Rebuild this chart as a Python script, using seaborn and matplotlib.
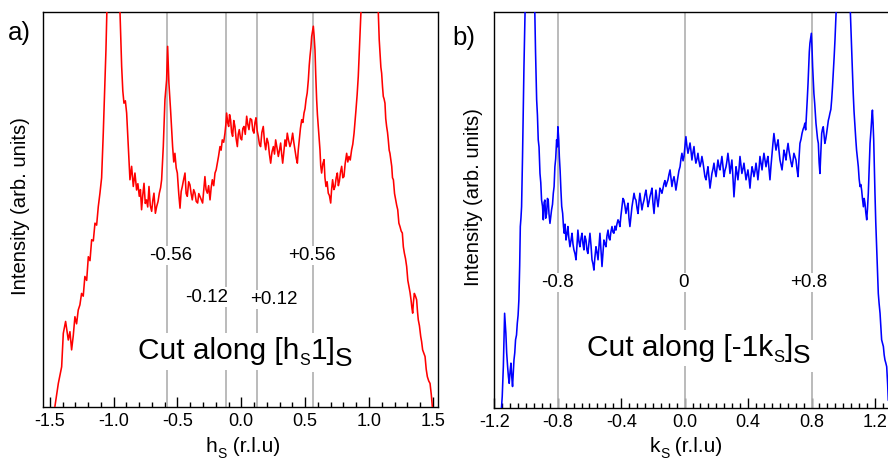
import matplotlib
matplotlib.use("Agg")
import matplotlib.pyplot as plt
import matplotlib.transforms as mtransforms
from matplotlib.ticker import FixedLocator, MultipleLocator
import seaborn as sns
import pandas as pd

# ---------------- data ----------------
h_s = [-1.460, -1.433, -1.407, -1.394, -1.376, -1.355, -1.342, -1.329, -1.316, -1.303, -1.290, -1.277,
       -1.264, -1.251, -1.238, -1.225, -1.211, -1.198, -1.185, -1.172, -1.159, -1.146, -1.133, -1.120,
       -1.107, -1.094, -1.081, -1.070, -1.060, -1.050, -1.000, -0.952, -0.937, -0.928, -0.919, -0.908,
       -0.898, -0.885, -0.872, -0.859, -0.846, -0.833, -0.820, -0.810, -0.799, -0.790, -0.781, -0.772,
       -0.762, -0.752, -0.742, -0.733, -0.723, -0.713, -0.702, -0.693, -0.684, -0.673, -0.663, -0.652,
       -0.642, -0.632, -0.624, -0.611, -0.598, -0.585, -0.577, -0.567, -0.554, -0.546, -0.538, -0.529,
       -0.520, -0.510, -0.501, -0.490, -0.480, -0.471, -0.462, -0.452, -0.441, -0.432, -0.423, -0.412,
       -0.402, -0.393, -0.384, -0.373, -0.363, -0.353, -0.342, -0.333, -0.324, -0.313, -0.303, -0.294,
       -0.285, -0.276, -0.266, -0.256, -0.245, -0.236, -0.227, -0.216, -0.206, -0.197, -0.188, -0.178,
       -0.167, -0.158, -0.149, -0.138, -0.128, -0.121, -0.115, -0.107, -0.099, -0.092, -0.084, -0.076,
       -0.068, -0.059, -0.050, -0.041, -0.031, -0.024, -0.016, -0.006, 0.003, 0.012, 0.021, 0.031,
       0.042, 0.051, 0.060, 0.070, 0.081, 0.090, 0.099, 0.107, 0.115, 0.124, 0.133, 0.142,
       0.151, 0.161, 0.172, 0.182, 0.191, 0.201, 0.211, 0.220, 0.230, 0.240, 0.251, 0.260,
       0.269, 0.280, 0.290, 0.299, 0.308, 0.316, 0.324, 0.333, 0.342, 0.351, 0.360, 0.370,
       0.381, 0.391, 0.402, 0.411, 0.420, 0.430, 0.439, 0.446, 0.454, 0.463, 0.473, 0.482,
       0.491, 0.499, 0.507, 0.516, 0.525, 0.532, 0.538, 0.545, 0.551, 0.557, 0.564, 0.570,
       0.577, 0.583, 0.590, 0.596, 0.603, 0.610, 0.616, 0.622, 0.629, 0.638, 0.648, 0.655,
       0.663, 0.672, 0.681, 0.690, 0.700, 0.707, 0.715, 0.725, 0.734, 0.743, 0.752, 0.760,
       0.768, 0.777, 0.786, 0.795, 0.804, 0.813, 0.825, 0.834, 0.843, 0.853, 0.864, 0.873,
       0.883, 0.890, 0.898, 0.907, 0.916, 0.923, 0.930, 0.940, 1.005, 1.070, 1.073, 1.080,
       1.086, 1.093, 1.099, 1.106, 1.112, 1.118, 1.125, 1.131, 1.138, 1.145, 1.151, 1.158,
       1.164, 1.171, 1.178, 1.184, 1.191, 1.200, 1.209, 1.217, 1.225, 1.234, 1.243, 1.252,
       1.261, 1.269, 1.277, 1.286, 1.295, 1.304, 1.313, 1.321, 1.329, 1.336, 1.342, 1.348,
       1.355, 1.364, 1.373, 1.380, 1.386, 1.395, 1.405, 1.412, 1.420, 1.430, 1.439, 1.448,
       1.457, 1.468, 1.478, 1.488, 1.496]
int_h = [0.0, 5.9, 10.1, 18.6, 21.6, 16.9, 19.0, 14.4, 18.0, 22.8, 21.0, 24.5,
         25.8, 28.7, 28.0, 33.0, 32.0, 38.0, 37.0, 42.3, 42.0, 46.5, 46.0, 50.7,
         54.1, 58.0, 69.3, 80.0, 90.4, 104, 180, 102, 86.2, 80.0, 76.9, 77.5,
         74.4, 65.9, 57.5, 60.9, 55.8, 59.2, 54.9, 56.5, 53.3, 55.0, 49.9, 53.5,
         56.6, 51.5, 52.4, 50.6, 55.8, 51.0, 49.5, 52.3, 54.1, 49.0, 50.7, 52.0,
         54.1, 55.5, 57.5, 65.9, 77.8, 82.8, 91.3, 82.0, 75.2, 70.5, 65.9, 62.0,
         64.2, 60.5, 59.2, 54.0, 50.3, 54.5, 55.8, 57.5, 59.2, 54.0, 53.3, 57.0,
         56.2, 54.0, 52.4, 55.0, 54.1, 52.0, 51.6, 54.0, 53.3, 52.5, 51.6, 54.8,
         58.3, 55.0, 54.1, 56.0, 52.4, 55.5, 57.5, 56.0, 59.2, 60.0, 61.7, 63.5,
         65.9, 65.0, 67.6, 67.0, 69.3, 71.5, 74.4, 72.0, 71.0, 74.0, 72.7, 69.5,
         68.5, 72.5, 71.0, 68.0, 65.9, 69.0, 70.2, 68.0, 67.6, 70.5, 71.0, 69.0,
         73.6, 71.5, 70.2, 73.0, 72.7, 70.0, 69.3, 72.0, 73.2, 70.0, 68.5, 66.5,
         65.9, 69.5, 71.0, 67.0, 65.1, 68.0, 66.8, 64.0, 61.7, 64.5, 65.9, 64.0,
         67.6, 65.5, 63.4, 65.0, 66.8, 64.0, 61.7, 64.5, 67.6, 66.0, 69.3, 67.5,
         65.9, 67.0, 69.3, 67.0, 65.1, 63.0, 61.7, 65.0, 67.6, 70.5, 72.7, 72.0,
         74.4, 75.5, 77.8, 79.5, 82.8, 86.5, 88.8, 91.0, 93.8, 95.0, 96.4, 94.0,
         90.4, 84.0, 77.8, 74.0, 71.0, 68.0, 65.1, 61.0, 59.2, 61.5, 62.6, 58.0,
         55.8, 57.0, 54.1, 53.5, 51.6, 55.0, 57.5, 55.0, 55.8, 58.0, 59.2, 56.0,
         57.1, 59.5, 60.9, 58.0, 58.3, 61.5, 64.2, 62.0, 63.4, 62.5, 65.1, 66.5,
         69.3, 72.0, 75.2, 79.0, 83.7, 89.0, 94.7, 102, 180, 102, 99.7, 93.0,
         89.6, 86.0, 84.5, 81.0, 78.6, 78.0, 76.9, 73.0, 71.0, 69.5, 67.6, 65.0,
         64.2, 62.5, 60.9, 58.0, 57.5, 54.0, 52.4, 51.0, 49.9, 46.5, 45.6, 44.5,
         44.0, 40.5, 38.9, 37.5, 35.5, 32.0, 30.4, 29.0, 27.1, 25.0, 23.7, 26.5,
         28.7, 28.0, 27.1, 24.0, 22.0, 20.5, 17.8, 16.5, 14.4, 13.5, 12.7, 9.5,
         7.6, 6.5, 5.9, 3.0, 0.0]

k_s = [-1.158, -1.150, -1.143, -1.135, -1.127, -1.122, -1.116, -1.111, -1.106, -1.100, -1.095, -1.090,
       -1.085, -1.080, -1.076, -1.071, -1.066, -1.060, -1.055, -1.050, -1.045, -1.040, -1.036, -1.032,
       -1.028, -1.022, -1.016, -1.013, -1.005, -0.975, -0.945, -0.940, -0.933, -0.928, -0.923, -0.918,
       -0.912, -0.907, -0.902, -0.896, -0.891, -0.886, -0.881, -0.876, -0.870, -0.865, -0.860, -0.855,
       -0.849, -0.844, -0.839, -0.833, -0.828, -0.823, -0.818, -0.813, -0.807, -0.803, -0.799, -0.794,
       -0.790, -0.785, -0.780, -0.775, -0.769, -0.764, -0.759, -0.754, -0.748, -0.742, -0.736, -0.730,
       -0.723, -0.716, -0.710, -0.704, -0.698, -0.691, -0.685, -0.679, -0.673, -0.666, -0.660, -0.653,
       -0.647, -0.641, -0.635, -0.629, -0.622, -0.616, -0.610, -0.603, -0.597, -0.590, -0.584, -0.578,
       -0.572, -0.566, -0.559, -0.553, -0.546, -0.540, -0.534, -0.528, -0.521, -0.515, -0.509, -0.502,
       -0.496, -0.490, -0.483, -0.477, -0.471, -0.465, -0.458, -0.452, -0.446, -0.439, -0.433, -0.427,
       -0.420, -0.414, -0.408, -0.402, -0.395, -0.389, -0.383, -0.376, -0.370, -0.364, -0.357, -0.351,
       -0.345, -0.338, -0.332, -0.326, -0.319, -0.313, -0.307, -0.300, -0.294, -0.288, -0.282, -0.275,
       -0.269, -0.263, -0.256, -0.250, -0.244, -0.237, -0.231, -0.225, -0.219, -0.212, -0.206, -0.200,
       -0.193, -0.187, -0.181, -0.175, -0.168, -0.162, -0.156, -0.149, -0.143, -0.137, -0.130, -0.124,
       -0.118, -0.111, -0.105, -0.099, -0.092, -0.086, -0.080, -0.074, -0.067, -0.061, -0.055, -0.048,
       -0.042, -0.036, -0.029, -0.023, -0.017, -0.010, -0.004, 0.002, 0.008, 0.015, 0.021, 0.027,
       0.034, 0.040, 0.046, 0.052, 0.059, 0.065, 0.071, 0.078, 0.084, 0.090, 0.097, 0.103,
       0.109, 0.116, 0.122, 0.128, 0.135, 0.141, 0.147, 0.154, 0.160, 0.166, 0.172, 0.179,
       0.185, 0.191, 0.198, 0.204, 0.210, 0.217, 0.223, 0.229, 0.235, 0.242, 0.248, 0.254,
       0.261, 0.267, 0.273, 0.280, 0.286, 0.292, 0.298, 0.305, 0.311, 0.317, 0.324, 0.330,
       0.336, 0.343, 0.349, 0.355, 0.361, 0.368, 0.374, 0.380, 0.387, 0.393, 0.399, 0.406,
       0.412, 0.418, 0.425, 0.431, 0.437, 0.444, 0.450, 0.456, 0.462, 0.469, 0.475, 0.481,
       0.488, 0.494, 0.500, 0.507, 0.513, 0.519, 0.525, 0.532, 0.538, 0.544, 0.551, 0.557,
       0.563, 0.570, 0.576, 0.582, 0.589, 0.595, 0.601, 0.607, 0.614, 0.620, 0.626, 0.633,
       0.639, 0.645, 0.652, 0.658, 0.664, 0.671, 0.677, 0.683, 0.689, 0.696, 0.702, 0.708,
       0.715, 0.721, 0.727, 0.734, 0.740, 0.747, 0.753, 0.758, 0.763, 0.768, 0.773, 0.778,
       0.782, 0.786, 0.790, 0.795, 0.799, 0.803, 0.807, 0.811, 0.815, 0.820, 0.824, 0.828,
       0.832, 0.838, 0.843, 0.848, 0.853, 0.858, 0.864, 0.869, 0.874, 0.879, 0.884, 0.890,
       0.895, 0.900, 0.906, 0.911, 0.916, 0.922, 0.927, 0.932, 0.937, 0.943, 0.948, 0.956,
       1.000, 1.044, 1.049, 1.053, 1.058, 1.063, 1.068, 1.074, 1.079, 1.084, 1.090, 1.095,
       1.100, 1.106, 1.111, 1.116, 1.121, 1.127, 1.132, 1.137, 1.142, 1.148, 1.153, 1.158,
       1.164, 1.169, 1.172, 1.175, 1.180, 1.184, 1.188, 1.192, 1.196, 1.200, 1.205, 1.211,
       1.216, 1.221, 1.226, 1.232, 1.237, 1.242, 1.247, 1.253, 1.258, 1.263, 1.268, 1.274,
       1.280, 1.284]
int_k = [-2.0, 3.0, 10.5, 24.0, 18.9, 14.0, 10.5, 8.0, 6.3, 9.5, 11.4, 8.0,
         5.5, 9.0, 12.2, 14.0, 17.3, 18.5, 21.5, 23.5, 27.4, 36.0, 45.9, 48.0,
         50.9, 63.6, 78.0, 86.3, 102, 180, 101, 90.0, 77.9, 74.0, 67.8, 66.0,
         59.3, 57.0, 52.6, 51.0, 47.6, 52.0, 52.6, 48.0, 49.2, 53.0, 52.6, 49.0,
         46.7, 48.5, 50.1, 51.5, 54.3, 56.0, 61.0, 63.0, 67.8, 66.0, 71.1, 68.0,
         63.6, 60.0, 55.1, 51.0, 49.2, 46.0, 44.2, 46.5, 42.5, 44.0, 45.9, 43.0,
         40.8, 42.5, 44.2, 41.5, 40.0, 39.0, 37.5, 41.0, 45.0, 42.0, 40.8, 43.0,
         44.2, 41.5, 40.0, 43.5, 42.5, 40.0, 39.1, 42.0, 44.2, 41.0, 37.5, 36.5,
         34.9, 38.0, 40.8, 39.5, 37.5, 41.0, 44.2, 40.5, 35.8, 39.0, 42.5, 41.5,
         40.8, 43.5, 45.0, 43.0, 42.5, 44.5, 45.9, 44.5, 44.2, 46.0, 45.0, 46.5,
         47.6, 47.0, 45.9, 48.5, 50.9, 53.0, 52.6, 51.0, 49.2, 50.5, 51.8, 48.0,
         45.9, 48.5, 50.9, 52.5, 54.3, 53.0, 52.6, 50.5, 49.2, 52.0, 54.3, 52.0,
         50.1, 51.5, 52.6, 54.0, 55.1, 53.0, 50.9, 52.0, 53.4, 54.5, 55.6, 52.0,
         49.2, 52.5, 55.1, 53.0, 50.9, 53.0, 55.6, 55.0, 54.3, 55.5, 56.8, 57.5,
         56.0, 57.0, 57.7, 59.0, 60.2, 58.0, 56.0, 57.5, 58.5, 57.0, 55.1, 57.0,
         58.5, 60.0, 61.0, 63.0, 64.4, 62.5, 63.6, 66.0, 68.6, 66.0, 64.4, 65.5,
         67.0, 65.0, 62.7, 64.5, 66.1, 63.5, 61.9, 63.0, 64.4, 62.5, 61.0, 62.0,
         63.6, 62.0, 60.2, 58.5, 57.7, 59.5, 61.0, 58.0, 55.6, 57.5, 59.3, 60.5,
         61.9, 60.0, 58.5, 60.5, 62.7, 61.0, 60.2, 62.0, 63.6, 61.0, 58.5, 60.0,
         61.0, 62.5, 64.4, 62.0, 59.3, 61.0, 62.7, 58.0, 53.4, 57.0, 61.0, 59.5,
         57.7, 60.5, 63.6, 61.5, 59.3, 60.5, 61.9, 60.0, 57.7, 59.0, 60.2, 58.0,
         55.6, 58.5, 61.0, 60.0, 58.5, 60.0, 61.9, 60.0, 57.7, 60.5, 63.6, 62.0,
         60.2, 62.5, 64.4, 62.5, 61.0, 62.5, 63.6, 60.5, 57.7, 61.0, 64.4, 67.0,
         69.4, 67.0, 65.2, 66.5, 67.8, 65.0, 62.7, 61.5, 60.2, 62.5, 65.2, 64.0,
         62.7, 65.0, 66.9, 65.0, 63.6, 62.0, 61.0, 62.5, 64.4, 63.5, 62.7, 60.5,
         58.5, 63.0, 66.9, 68.0, 69.4, 70.5, 71.1, 72.0, 70.3, 74.0, 77.9, 82.0,
         86.3, 90.0, 92.2, 93.5, 94.7, 91.0, 86.3, 83.0, 79.5, 77.0, 74.5, 72.0,
         70.3, 68.0, 66.9, 62.0, 59.3, 64.0, 69.4, 70.5, 71.1, 69.0, 66.9, 68.0,
         69.4, 71.0, 72.7, 73.5, 74.5, 75.5, 77.9, 81.0, 84.6, 89.0, 93.1, 101,
         180, 101, 95.0, 90.5, 85.0, 79.5, 75.0, 71.1, 68.0, 65.2, 63.0, 61.0,
         58.0, 56.0, 56.5, 55.1, 53.0, 50.9, 53.0, 51.8, 49.5, 47.6, 50.5, 54.3,
         61.0, 66.9, 68.5, 70.3, 73.5, 75.3, 72.0, 67.8, 61.0, 54.3, 47.0, 40.0,
         34.5, 29.0, 26.5, 24.0, 20.5, 17.3, 16.5, 15.6, 13.5, 12.2, 11.5, 10.5,
         6.0, 2.0]

h_ticks = [-1.5, -1.0, -0.5, 0.0, 0.5, 1.0, 1.5]
h_ticklabels = ["-1.5", "-1.0", "-0.5", "0.0", "0.5", "1.0", "1.5"]
k_ticks = [-1.2, -0.8, -0.4, 0.0, 0.4, 0.8, 1.2]
k_ticklabels = ["-1.2", "-0.8", "-0.4", "0.0", "0.4", "0.8", "1.2"]

h_marks = [-0.58, -0.12, 0.12, 0.56]
h_mark_labels = ["-0.56", "-0.12", "+0.12", "+0.56"]
k_marks = [-0.8, 0.0, 0.8]
k_mark_labels = ["-0.8", "0", "+0.8"]

# ---------------- style ----------------
sns.set_theme(style="white")
plt.rcParams["font.family"] = ["Liberation Sans", "DejaVu Sans"]
plt.rcParams["axes.unicode_minus"] = False
plt.rcParams["text.color"] = "black"

W, H = 888, 462
fig = plt.figure(figsize=(W / 100, H / 100), dpi=100)


def rect(l, t, r, b):
    return [l / W, 1 - b / H, (r - l) / W, (b - t) / H]


ax1 = fig.add_axes(rect(43, 12, 437.7, 406.7))
ax2 = fig.add_axes(rect(494.3, 12.3, 894, 408.3))

df_h = pd.DataFrame({"h": h_s, "I": int_h})
df_k = pd.DataFrame({"k": k_s, "I": int_k})

sns.lineplot(data=df_h, x="h", y="I", ax=ax1, color="#ff0000", lw=1.15,
             estimator=None, sort=False, zorder=3)
sns.lineplot(data=df_k, x="k", y="I", ax=ax2, color="#0000ff", lw=1.15,
             estimator=None, sort=False, zorder=3)

for ax, xl, ticks, labels, minor in [(ax1, (-1.553, 1.538), h_ticks, h_ticklabels, 0.1),
                                     (ax2, (-1.2, 1.32), k_ticks, k_ticklabels, 0.05)]:
    ax.set_xlim(*xl)
    ax.set_ylim(0, 100)
    ax.set_yticks([])
    ax.set_xlabel("")
    ax.set_ylabel("")
    ax.xaxis.set_major_locator(FixedLocator(ticks))
    ax.set_xticklabels(labels)
    ax.xaxis.set_minor_locator(MultipleLocator(minor))
    ax.tick_params(axis="x", which="major", direction="in", length=7, width=1,
                   color="black", bottom=True, top=False, labelsize=13,
                   labelcolor="black", pad=4.2)
    ax.tick_params(axis="x", which="minor", direction="in", length=3.8, width=1,
                   color="black", bottom=True, top=False)
    for sp in ax.spines.values():
        sp.set_color("black")
        sp.set_linewidth(1.0)
    ax.set_facecolor("white")

for x in h_marks:
    ax1.axvline(x, color="#b5b5b5", lw=1.3, zorder=1)
for x in k_marks:
    ax2.axvline(x, color="#b5b5b5", lw=1.3, zorder=1)

box = dict(facecolor="white", edgecolor="none", pad=1.0)
for s, x, y in zip(h_mark_labels, [-0.555, -0.271, 0.258, 0.551], [37.2, 26.6, 26.0, 37.2]):
    ax1.text(x, y, s, ha="center", va="baseline", fontsize=13.5, color="black",
             bbox=box, zorder=4)
for s, x in zip(k_mark_labels, [-0.801, -0.004, 0.780]):
    ax2.text(x, 30.6, s, ha="center", va="baseline", fontsize=13.5, color="black",
             bbox=box, zorder=4)

renderer = fig.canvas.get_renderer()


def rich(ax, x, y, pieces, transform, bbox=None):
    widths = []
    for s, size, dy in pieces:
        t = fig.text(0, 0, s, fontsize=size)
        widths.append(t.get_window_extent(renderer=renderer).width)
        t.remove()
    start = -sum(widths) / 2
    # white background boxes first, then the visible text on top
    layers = [(True, 3.5), (False, 4.5)] if bbox is not None else [(False, 4.5)]
    for is_box, z in layers:
        off = start
        for (s, size, dy), w in zip(pieces, widths):
            tr = mtransforms.offset_copy(transform, fig=fig, x=off,
                                         y=dy * fig.dpi / 72, units="dots")
            kw = {}
            if is_box:
                kw["bbox"] = bbox
                kw["color"] = (1, 1, 1, 0)
            else:
                kw["color"] = "black"
            ax.text(x, y, s, transform=tr, fontsize=size, ha="left", va="baseline",
                    zorder=z, clip_on=False, **kw)
            off += w


bigbox = dict(facecolor="white", edgecolor="none", pad=3.0)
rich(ax1, 0.033, 12.0, [("Cut along [h", 21.5, 0), ("S", 11.5, -4), ("1]", 21.5, 0),
                        ("S", 19, -4.5)], ax1.transData, bbox=bigbox)
rich(ax2, 0.089, 13.2, [("Cut along [-1k", 21.5, 0), ("S", 12, -4), ("]", 21.5, 0),
                        ("S", 19, -5)], ax2.transData, bbox=bigbox)

# x labels
rich(ax1, 243 / W, 1 - 452 / H, [("h", 15, 0), ("S", 10, -4), (" (r.l.u)", 15, 0)],
     fig.transFigure)
rich(ax2, 686 / W, 1 - 452 / H, [("k", 15, 0), ("S", 10, -4), (" (r.l.u)", 15, 0)],
     fig.transFigure)

# y labels
fig.text(21 / W, 1 - 206 / H, "Intensity (arb. units)", rotation=90, ha="center",
         va="center", fontsize=14.6, color="black")
fig.text(473.5 / W, 1 - 197.5 / H, "Intensity (arb. units)", rotation=90, ha="center",
         va="center", fontsize=14.6, color="black")

# panel labels
fig.text(8 / W, 1 - 40 / H, "a)", fontsize=18.5, ha="left", va="baseline", color="black")
fig.text(452 / W, 1 - 45 / H, "b)", fontsize=18.5, ha="left", va="baseline", color="black")

fig.savefig("out.png", dpi=100, facecolor="white")
